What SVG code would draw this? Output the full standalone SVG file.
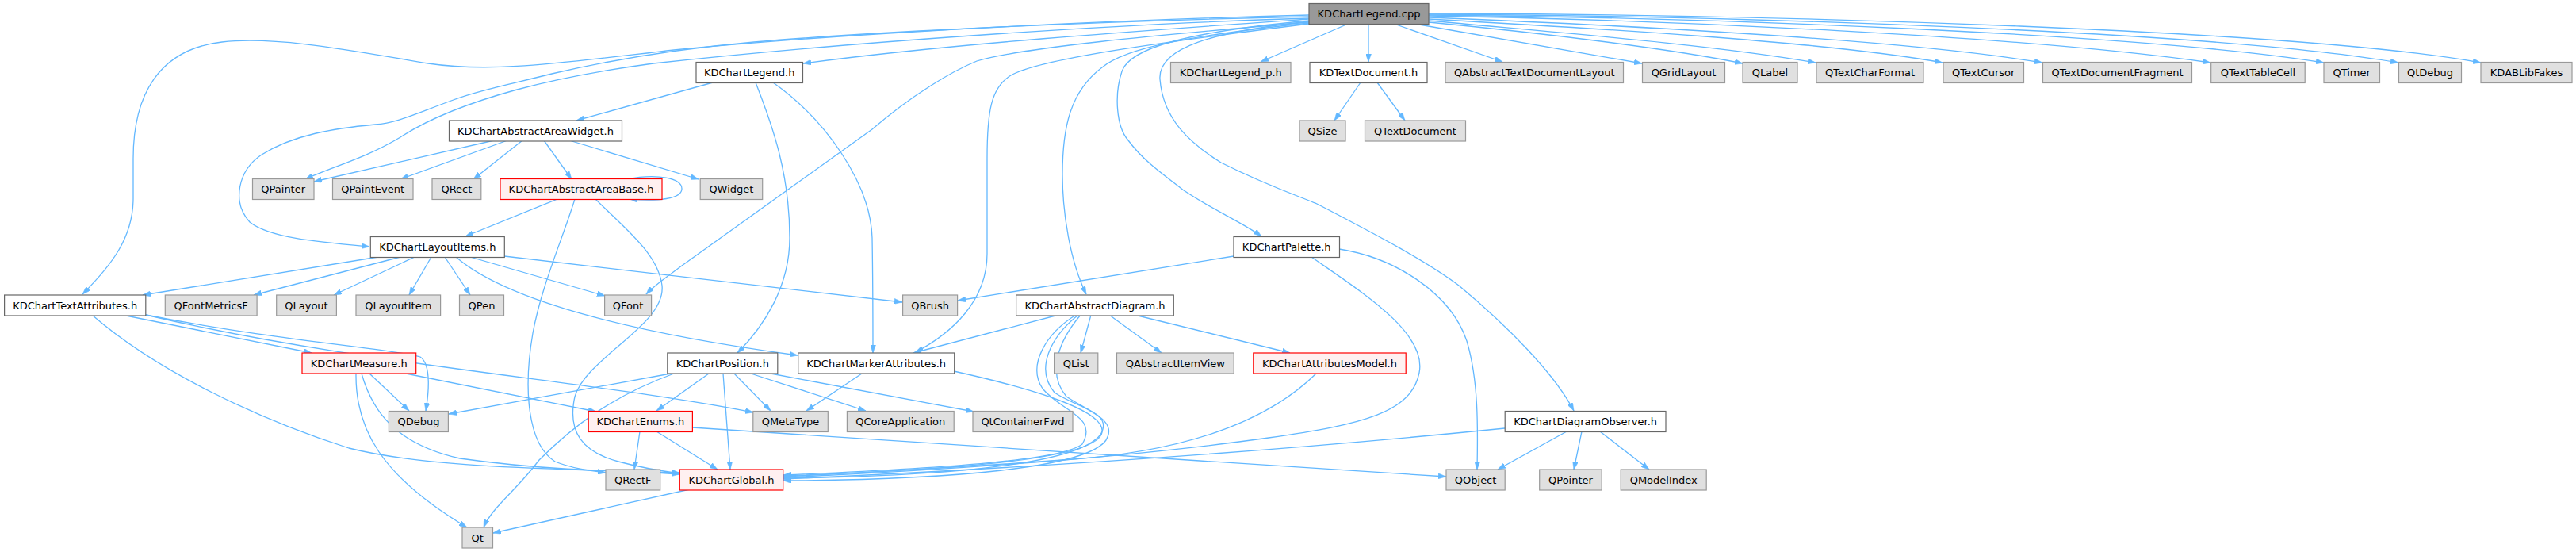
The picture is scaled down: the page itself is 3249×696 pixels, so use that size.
<svg xmlns="http://www.w3.org/2000/svg" width="3249" height="696" viewBox="0 0 3249 696">
<style>
.node rect{stroke-width:1.2}
.w rect{fill:#ffffff;stroke:#666666}
.g rect{fill:#e0e0e0;stroke:#999999}
.r rect{fill:#fff0f0;stroke:#ff0000}
.root rect{fill:#999999;stroke:#666666}
.node text{font-family:"DejaVu Sans","Liberation Sans",sans-serif;font-size:13px;fill:#000000;text-anchor:middle}
#edges path{fill:none;stroke:#63b8ff;stroke-width:1.3;marker-end:url(#arr)}
</style>
<defs>
<marker id="arr" viewBox="0 0 10 7" refX="10" refY="3.5" markerWidth="10" markerHeight="7" orient="auto" markerUnits="userSpaceOnUse"><path d="M0,0 L10,3.5 L0,7 z" fill="#63b8ff" stroke="#63b8ff" stroke-width="0.5"/></marker>
</defs>
<rect width="3249" height="696" fill="#ffffff"/>
<g id="edges">
<path d="M1651,24 C1450,38 1200,55 1013,80"/>
<path d="M1698,31 L1590,78"/>
<path d="M1726,31 L1726,78"/>
<path d="M1761,31 L1895,78"/>
<path d="M1790,31 C1900,50 2000,68 2071,80"/>
<path d="M1802,28 C1950,42 2110,62 2198,80"/>
<path d="M1802,26 C1950,40 2150,55 2290,79"/>
<path d="M1802,24 C2000,35 2300,52 2450,79"/>
<path d="M1802,22 C2050,32 2400,50 2576,79"/>
<path d="M1802,20 C2100,25 2550,45 2788,79"/>
<path d="M1802,19 C2150,22 2700,42 2931,79"/>
<path d="M1802,18 C2200,20 2800,40 3025,79"/>
<path d="M1802,17 C2250,18 2900,38 3129,79"/>
<path d="M1651,19 C1300,28 1000,48 850,63 C700,80 620,92 540,80 C450,65 350,45 280,53 C200,62 168,120 168,200 L168,250 C168,300 140,335 104,371"/>
<path d="M1651,23 C1400,30 1050,55 824,80 C750,90 700,100 652,113 C590,130 540,150 505,173 C460,200 420,210 385,226"/>
<path d="M1651,21 C1400,26 1100,40 951,53 C850,62 760,78 696,93 C640,107 600,115 569,127 C520,145 500,155 473,157 C420,162 370,170 330,195 C300,215 292,255 315,280 C340,300 400,305 466,311"/>
<path d="M1651,28 C1450,45 1290,60 1232,77 C1200,90 1150,120 1100,163 L860,335 C840,350 825,360 815,371"/>
<path d="M1651,30 C1450,55 1310,75 1275,95 C1250,110 1245,140 1245,200 L1245,320 C1245,380 1200,420 1155,444"/>
<path d="M1651,29 C1500,45 1420,60 1390,85 C1350,115 1340,160 1340,220 C1340,270 1350,330 1370,371"/>
<path d="M1651,26 C1500,40 1425,60 1415,90 C1405,120 1408,160 1423,177 C1440,200 1460,215 1493,240 C1530,265 1570,282 1591,298"/>
<path d="M1651,27 C1530,40 1460,60 1463,100 C1467,150 1500,180 1540,205 C1600,235 1640,248 1661,257 C1740,298 1800,330 1840,360 C1900,410 1960,470 1985,518"/>
<path d="M899,104 L727,152"/>
<path d="M953,104 C975,160 996,220 996,300 C996,360 965,410 930,445"/>
<path d="M975,104 C1040,150 1098,230 1100,300 C1101,360 1101,410 1101,445"/>
<path d="M1716,104 L1683,152"/>
<path d="M1737,104 L1772,152"/>
<path d="M623,177 L396,229"/>
<path d="M640,177 L505,226"/>
<path d="M659,177 L597,226"/>
<path d="M686,177 L721,226"/>
<path d="M718,177 L881,226"/>
<path d="M790,226 C830,218 860,225 860,238 C860,251 830,254 794,251"/>
<path d="M703,251 L587,298"/>
<path d="M725,251 C710,300 683,360 672,420 C660,490 665,560 700,582 C720,590 740,593 764,596"/>
<path d="M751,251 C790,290 830,320 835,360 C840,410 740,450 725,500 C715,545 735,570 780,582 C810,590 835,594 857,597"/>
<path d="M477,324 L180,372"/>
<path d="M505,324 L320,372"/>
<path d="M523,324 L421,372"/>
<path d="M544,324 L516,372"/>
<path d="M561,324 L593,372"/>
<path d="M575,324 C640,380 800,420 1006,448"/>
<path d="M593,324 L763,373"/>
<path d="M636,323 L1138,381"/>
<path d="M1556,323 L1208,379"/>
<path d="M1654,324 C1720,370 1800,420 1790,470 C1780,520 1720,535 1600,552 C1400,580 1150,595 988,602"/>
<path d="M1689,314 C1760,325 1830,370 1850,430 C1865,480 1864,540 1863,592"/>
<path d="M154,397 L393,445"/>
<path d="M184,397 C350,430 500,440 530,450 C545,460 540,500 537,518"/>
<path d="M184,397 C450,460 750,480 950,520"/>
<path d="M116,397 C200,470 330,530 440,565 C560,595 760,590 857,598"/>
<path d="M1335,397 L1152,445"/>
<path d="M1376,397 L1363,445"/>
<path d="M1399,397 L1465,445"/>
<path d="M1431,397 L1627,445"/>
<path d="M1357,397 C1320,420 1295,460 1315,490 C1340,520 1385,525 1365,560 C1340,580 1200,590 988,599"/>
<path d="M1360,397 C1325,425 1305,465 1330,495 C1360,515 1405,520 1388,548 C1360,585 1200,600 988,603"/>
<path d="M1363,397 C1335,430 1320,470 1345,500 C1375,520 1410,530 1395,555 C1370,590 1200,605 988,606"/>
<path d="M466,471 L516,518"/>
<path d="M512,471 L752,519"/>
<path d="M456,471 C470,520 500,560 580,578 C700,595 800,594 857,596"/>
<path d="M449,471 C448,540 480,600 589,665"/>
<path d="M846,471 L566,522"/>
<path d="M850,471 C770,500 720,540 680,580 C650,620 620,640 610,665"/>
<path d="M894,471 L828,518"/>
<path d="M912,471 L921,592"/>
<path d="M926,471 L972,518"/>
<path d="M947,471 L1092,518"/>
<path d="M972,471 L1228,519"/>
<path d="M1087,471 L1017,518"/>
<path d="M1203,468 C1280,485 1395,515 1390,545 C1385,580 1200,592 988,600"/>
<path d="M1660,471 C1600,530 1500,570 1340,580 C1200,590 1050,598 988,601"/>
<path d="M807,544 L800,592"/>
<path d="M828,544 L905,592"/>
<path d="M873,539 C1100,555 1500,580 1824,601"/>
<path d="M1976,544 L1889,592"/>
<path d="M1995,544 L1985,592"/>
<path d="M2018,544 L2080,592"/>
<path d="M1898,540 C1600,570 1300,590 988,604"/>
<path d="M870,617 L622,672"/>
</g>
<g id="n-cpp" class="node root"><rect x="1651" y="4.5" width="151" height="26"/><text x="1726.5" y="22">KDChartLegend.cpp</text></g>
<g id="n-legendh" class="node w"><rect x="878" y="78.5" width="134.5" height="26"/><text x="945.2" y="96">KDChartLegend.h</text></g>
<g id="n-legendp" class="node g"><rect x="1476.5" y="78.5" width="151.5" height="26"/><text x="1552.2" y="96">KDChartLegend_p.h</text></g>
<g id="n-kdtextdoc" class="node w"><rect x="1652" y="78.5" width="148" height="26"/><text x="1726" y="96">KDTextDocument.h</text></g>
<g id="n-qatdl" class="node g"><rect x="1823" y="78.5" width="224.5" height="26"/><text x="1935.2" y="96">QAbstractTextDocumentLayout</text></g>
<g id="n-qgridlayout" class="node g"><rect x="2071.5" y="78.5" width="104" height="26"/><text x="2123.5" y="96">QGridLayout</text></g>
<g id="n-qlabel" class="node g"><rect x="2198" y="78.5" width="69" height="26"/><text x="2232.5" y="96">QLabel</text></g>
<g id="n-qtextcharformat" class="node g"><rect x="2291" y="78.5" width="135" height="26"/><text x="2358.5" y="96">QTextCharFormat</text></g>
<g id="n-qtextcursor" class="node g"><rect x="2451" y="78.5" width="101.5" height="26"/><text x="2501.7" y="96">QTextCursor</text></g>
<g id="n-qtextdocfrag" class="node g"><rect x="2576.5" y="78.5" width="188" height="26"/><text x="2670.5" y="96">QTextDocumentFragment</text></g>
<g id="n-qtexttablecell" class="node g"><rect x="2788.7" y="78.5" width="118.5" height="26"/><text x="2848" y="96">QTextTableCell</text></g>
<g id="n-qtimer" class="node g"><rect x="2931" y="78.5" width="70.5" height="26"/><text x="2966.2" y="96">QTimer</text></g>
<g id="n-qtdebug" class="node g"><rect x="3025.5" y="78.5" width="79" height="26"/><text x="3065" y="96">QtDebug</text></g>
<g id="n-kdablibfakes" class="node g"><rect x="3129" y="78.5" width="115" height="26"/><text x="3186.5" y="96">KDABLibFakes</text></g>
<g id="n-aaw" class="node w"><rect x="566.5" y="152" width="218" height="26"/><text x="675.5" y="169.5">KDChartAbstractAreaWidget.h</text></g>
<g id="n-qsize" class="node g"><rect x="1639" y="152" width="58" height="26"/><text x="1668" y="169.5">QSize</text></g>
<g id="n-qtextdocument" class="node g"><rect x="1721.5" y="152" width="127" height="26"/><text x="1785" y="169.5">QTextDocument</text></g>
<g id="n-qpainter" class="node g"><rect x="318.5" y="225.5" width="77.5" height="26"/><text x="357.2" y="243">QPainter</text></g>
<g id="n-qpaintevent" class="node g"><rect x="419.5" y="225.5" width="101.5" height="26"/><text x="470.2" y="243">QPaintEvent</text></g>
<g id="n-qrect" class="node g"><rect x="545" y="225.5" width="61.8" height="26"/><text x="575.9" y="243">QRect</text></g>
<g id="n-aab" class="node r"><rect x="631" y="225.5" width="204" height="26"/><text x="733" y="243">KDChartAbstractAreaBase.h</text></g>
<g id="n-qwidget" class="node g"><rect x="883.2" y="225.5" width="78.5" height="26"/><text x="922.4" y="243">QWidget</text></g>
<g id="n-layoutitems" class="node w"><rect x="467.3" y="298.5" width="169" height="26"/><text x="551.8" y="316">KDChartLayoutItems.h</text></g>
<g id="n-palette" class="node w"><rect x="1556" y="298.5" width="133.5" height="26"/><text x="1622.7" y="316">KDChartPalette.h</text></g>
<g id="n-textattr" class="node w"><rect x="5.6" y="372" width="178.2" height="26"/><text x="94.7" y="389.5">KDChartTextAttributes.h</text></g>
<g id="n-qfontmetricsf" class="node g"><rect x="208.3" y="372" width="115.8" height="26"/><text x="266.2" y="389.5">QFontMetricsF</text></g>
<g id="n-qlayout" class="node g"><rect x="348.7" y="372" width="75.7" height="26"/><text x="386.5" y="389.5">QLayout</text></g>
<g id="n-qlayoutitem" class="node g"><rect x="449" y="372" width="106.6" height="26"/><text x="502.3" y="389.5">QLayoutItem</text></g>
<g id="n-qpen" class="node g"><rect x="579.5" y="372" width="56" height="26"/><text x="607.5" y="389.5">QPen</text></g>
<g id="n-qfont" class="node g"><rect x="762.6" y="372" width="59" height="26"/><text x="792.1" y="389.5">QFont</text></g>
<g id="n-qbrush" class="node g"><rect x="1138.6" y="372" width="69" height="26"/><text x="1173.1" y="389.5">QBrush</text></g>
<g id="n-absdiagram" class="node w"><rect x="1281.6" y="372" width="198.7" height="26"/><text x="1381" y="389.5">KDChartAbstractDiagram.h</text></g>
<g id="n-measure" class="node r"><rect x="381" y="445" width="143.7" height="26"/><text x="452.8" y="462.5">KDChartMeasure.h</text></g>
<g id="n-position" class="node w"><rect x="841.8" y="445" width="139" height="26"/><text x="911.3" y="462.5">KDChartPosition.h</text></g>
<g id="n-marker" class="node w"><rect x="1006.7" y="445" width="197" height="26"/><text x="1105.2" y="462.5">KDChartMarkerAttributes.h</text></g>
<g id="n-qlist" class="node g"><rect x="1329.6" y="445" width="55.2" height="26"/><text x="1357.2" y="462.5">QList</text></g>
<g id="n-qabstractitemview" class="node g"><rect x="1408.5" y="445" width="147.7" height="26"/><text x="1482.3" y="462.5">QAbstractItemView</text></g>
<g id="n-attrmodel" class="node r"><rect x="1580.8" y="445" width="192.4" height="26"/><text x="1677" y="462.5">KDChartAttributesModel.h</text></g>
<g id="n-qdebug" class="node g"><rect x="490.4" y="518.5" width="75" height="26"/><text x="527.9" y="536">QDebug</text></g>
<g id="n-enums" class="node r"><rect x="742.2" y="518.5" width="131.2" height="26"/><text x="807.8" y="536">KDChartEnums.h</text></g>
<g id="n-qmetatype" class="node g"><rect x="949.8" y="518.5" width="94.5" height="26"/><text x="997" y="536">QMetaType</text></g>
<g id="n-qcoreapp" class="node g"><rect x="1068.4" y="518.5" width="134.8" height="26"/><text x="1135.8" y="536">QCoreApplication</text></g>
<g id="n-qtcontainerfwd" class="node g"><rect x="1227" y="518.5" width="126" height="26"/><text x="1290" y="536">QtContainerFwd</text></g>
<g id="n-diagobserver" class="node w"><rect x="1898.2" y="518.5" width="202.8" height="26"/><text x="1999.6" y="536">KDChartDiagramObserver.h</text></g>
<g id="n-qrectf" class="node g"><rect x="764" y="592" width="68.7" height="26"/><text x="798.3" y="609.5">QRectF</text></g>
<g id="n-global" class="node r"><rect x="857.3" y="592" width="130.4" height="26"/><text x="922.5" y="609.5">KDChartGlobal.h</text></g>
<g id="n-qobject" class="node g"><rect x="1824" y="592" width="74.2" height="26"/><text x="1861.1" y="609.5">QObject</text></g>
<g id="n-qpointer" class="node g"><rect x="1941.7" y="592" width="78.5" height="26"/><text x="1981" y="609.5">QPointer</text></g>
<g id="n-qmodelindex" class="node g"><rect x="2044.2" y="592" width="108" height="26"/><text x="2098.2" y="609.5">QModelIndex</text></g>
<g id="n-qt" class="node g"><rect x="583" y="665" width="38.5" height="26"/><text x="602.2" y="682.5">Qt</text></g>
</svg>
